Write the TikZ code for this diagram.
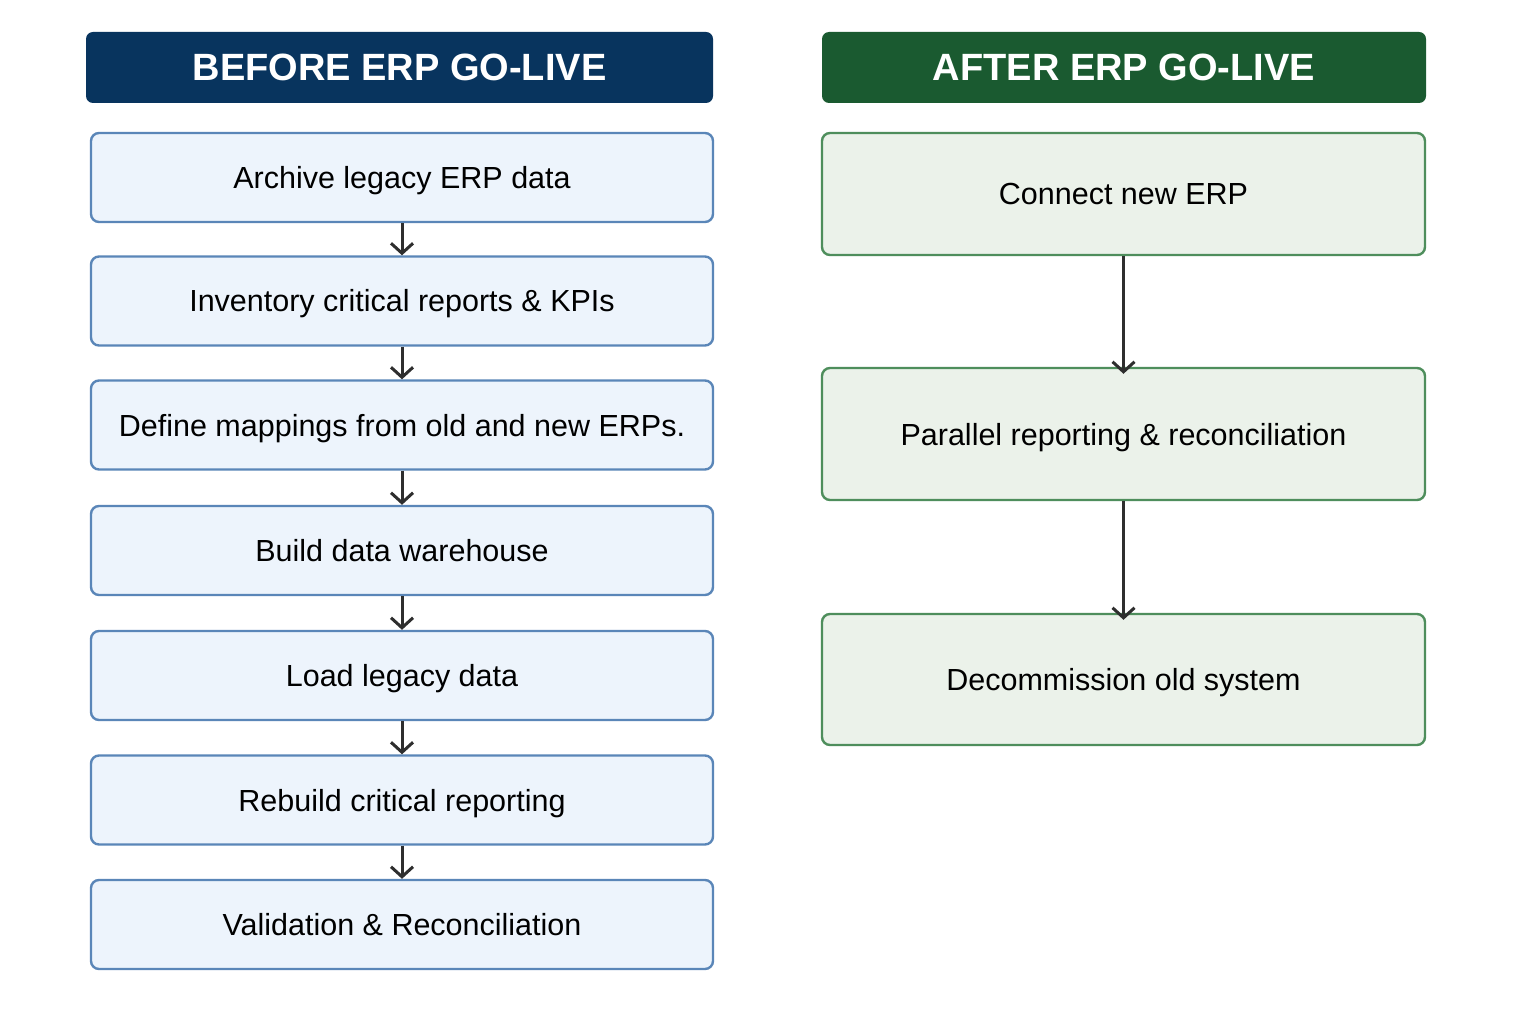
\documentclass[tikz,border=0pt]{standalone}
\usepackage{fontspec}
\setmainfont{Liberation Sans}
\usetikzlibrary{arrows.meta}

\definecolor{beforehead}{HTML}{08345E}
\definecolor{afterhead}{HTML}{1A5A30}
\definecolor{beforefill}{HTML}{EDF4FC}
\definecolor{beforeline}{HTML}{5A86B8}
\definecolor{afterfill}{HTML}{EBF2EA}
\definecolor{afterline}{HTML}{4E8E5C}
\definecolor{flowgray}{HTML}{2E2E2E}

\tikzset{
    header/.style={
        rounded corners=7pt, inner sep=0pt, minimum height=71pt,
        text height=27pt, text depth=-1.5pt,
        text=white, font=\fontsize{38}{44}\selectfont\bfseries,
    },
    stepbefore/.style={
        draw=beforeline, fill=beforefill, line width=2.4pt, rounded corners=8pt,
        inner sep=0pt, minimum width=622pt, minimum height=89pt,
        text height=22pt, text depth=0pt,
        font=\fontsize{30.5}{34}\selectfont,
    },
    stepafter/.style={
        draw=afterline, fill=afterfill, line width=2.4pt, rounded corners=8pt,
        inner sep=0pt, minimum width=603pt,
        text height=22pt, text depth=0pt,
        font=\fontsize{30.5}{34}\selectfont,
    },
    flow/.style={
        draw=flowgray, line width=3pt,
        -{Straight Barb[length=10pt,width=22pt,line width=3pt]},
    },
}

\begin{document}
\begin{tikzpicture}[x=1pt,y=-1pt]
  \useasboundingbox[fill=white] (0,0) rectangle (1536,1024);

  % Headers
  \node[header,fill=beforehead,minimum width=627pt] (beforeHead) at (399.5,67.5) {BEFORE ERP GO-LIVE};
  \node[header,fill=afterhead,minimum width=604pt] (afterHead) at (1124,67.5) {AFTER ERP GO-LIVE};

  % Before go-live steps
  \node[stepbefore] (archive) at (402,177.5) {Archive legacy ERP data};
  \node[stepbefore] (inventory) at (402,301) {Inventory critical reports \& KPIs};
  \node[stepbefore] (mappings) at (402,425) {Define mappings from old and new ERPs.};
  \node[stepbefore] (warehouse) at (402,550.5) {Build data warehouse};
  \node[stepbefore] (loadData) at (402,675.5) {Load legacy data};
  \node[stepbefore] (rebuild) at (402,800) {Rebuild critical reporting};
  \node[stepbefore] (validation) at (402,924.5) {Validation \& Reconciliation};

  % After go-live steps
  \node[stepafter,minimum height=122pt] (connect) at (1123.5,194) {Connect new ERP};
  \node[stepafter,minimum height=132pt] (parallel) at (1123.5,434) {Parallel reporting \& reconciliation};
  \node[stepafter,minimum height=131pt] (decommission) at (1123.5,679.5) {Decommission old system};

  % Before arrows
  \draw[flow] (archive) -- (inventory);
  \draw[flow] (inventory) -- (mappings);
  \draw[flow] (mappings) -- (warehouse);
  \draw[flow] (warehouse) -- (loadData);
  \draw[flow] (loadData) -- (rebuild);
  \draw[flow] (rebuild) -- (validation);

  % After arrows
  \draw[flow] (connect.south) -- ([yshift=-7pt]parallel.north);
  \draw[flow] (parallel.south) -- ([yshift=-7pt]decommission.north);

\end{tikzpicture}
\end{document}
